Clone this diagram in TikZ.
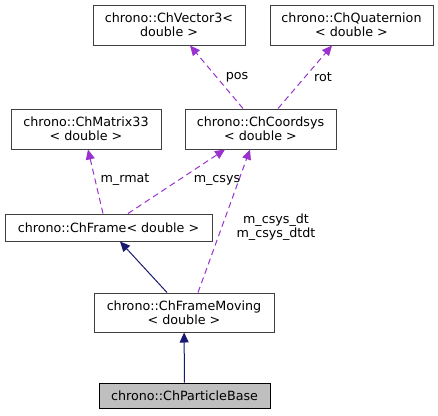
\documentclass[tikz,border=0pt]{standalone}
\usepackage{fontspec}
\setmainfont{DejaVu Sans}
\usetikzlibrary{arrows.meta}
\definecolor{usecol}{HTML}{9A32CD}
\definecolor{inhcol}{HTML}{191970}
\begin{document}
\begin{tikzpicture}[
  x=1pt, y=-1pt,
  cls/.style={rectangle, draw=black!75, line width=1pt, fill=white, inner sep=0pt,
    minimum width=#1, align=center, font=\fontsize{12.7}{14}\selectfont},
  uses/.style={-{Triangle[length=10pt,width=9pt]}, usecol, line width=1pt, dash pattern=on 6pt off 4pt},
  inh/.style={-{Triangle[length=10pt,width=9pt]}, inhcol, line width=1pt},
  lbl/.style={font=\fontsize{12.7}{14}\selectfont, align=center, inner sep=0pt}
]
\useasboundingbox (0,0) rectangle (438,415);

% classes
\node[cls=152pt, minimum height=40pt] (vec)  at (169,25)    {chrono::ChVector3<\\double >};
\node[cls=163pt, minimum height=40pt] (quat) at (351.5,25)  {chrono::ChQuaternion\\< double >};
\node[cls=150pt, minimum height=40pt] (mat)  at (86,129)    {chrono::ChMatrix33\\< double >};
\node[cls=151pt, minimum height=40pt] (csys) at (260.5,129) {chrono::ChCoordsys\\< double >};
\node[cls=207pt, minimum height=27pt] (frame)  at (108.5,227.5) {chrono::ChFrame< double >};
\node[cls=180pt, minimum height=39pt] (moving) at (184,312.5)   {chrono::ChFrameMoving\\< double >};
\node[cls=171pt, minimum height=25pt, fill=black!25, draw=black] (part) at (184.5,395.5) {chrono::ChParticleBase};

% member relations
\draw[uses] ([xshift=-17.5pt]csys.north) -- ([xshift=21pt]vec.south);
\draw[uses] ([xshift=17.5pt]csys.north) -- ([xshift=-19.5pt]quat.south);
\draw[uses] ([xshift=-5.5pt]frame.north) -- ([xshift=2pt]mat.south);
\draw[uses] ([xshift=19.5pt]frame.north) -- ([xshift=-35.5pt]csys.south);
\draw[uses] ([xshift=14pt]moving.north) -- ([xshift=-10.5pt]csys.south);

% inheritance
\draw[inh] ([xshift=-17pt]moving.north) -- ([xshift=11.5pt]frame.south);
\draw[inh] (part) -- (moving);

% labels
\node[lbl] (lpos)  at (237,77)  {pos};
\node[lbl] (lrot)  at (323,77)  {rot};
\node[lbl] (lrmat) at (125,180) {m\_rmat};
\node[lbl] (lcsys) at (217,180) {m\_csys};
\node[lbl] (ldt)   at (276,227.5) {m\_csys\_dt\\m\_csys\_dtdt};
\end{tikzpicture}
\end{document}
